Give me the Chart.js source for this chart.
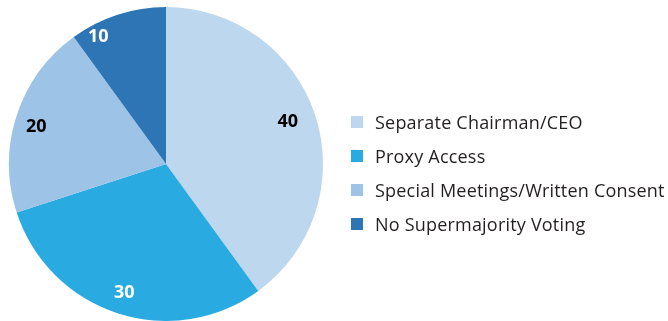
<!DOCTYPE html>
<html>
<head>
<meta charset="utf-8">
<script src="https://cdn.jsdelivr.net/npm/chart.js@4"></script>
<style>
  html, body { margin: 0; padding: 0; background: #fff; }
  #wrap { position: relative; width: 668px; height: 321px; overflow: hidden; }
  #pie { position: absolute; left: 0; top: 0; }
  #legend { position: absolute; left: 351px; top: 111px; font-family: "Open Sans", sans-serif;
            font-size: 18px; letter-spacing: 0.2px; color: #231f20; }
  #legend .row { height: 34px; display: flex; align-items: flex-start; white-space: nowrap; line-height: 22px; }
  #legend .box { width: 12px; height: 12px; margin: 5px 12px 0 0; flex: none; }
</style>
</head>
<body>
<div id="wrap">
  <canvas id="pie" width="668" height="321"></canvas>
  <div id="legend"></div>
</div>
<script>
const categories = ["Separate Chairman/CEO", "Proxy Access", "Special Meetings/Written Consent", "No Supermajority Voting"];
const values = [40, 30, 20, 10];
const sliceColors = ["#bdd7ee", "#29abe2", "#9dc3e6", "#2e75b6"];
const labelColors = ["#000000", "#ffffff", "#000000", "#ffffff"];

// slice value labels, placed along each arc's angle
const sliceLabels = {
  id: "sliceLabels",
  afterDatasetsDraw(chart, args, opts) {
    const ctx = chart.ctx;
    const meta = chart.getDatasetMeta(0);
    ctx.save();
    ctx.font = "bold 18px 'Open Sans', sans-serif";
    ctx.textAlign = "center";
    ctx.textBaseline = "middle";
    meta.data.forEach((arc, i) => {
      const p = arc.getProps(["x", "y", "startAngle", "endAngle", "outerRadius"], true);
      const ang = (p.startAngle + p.endAngle) / 2 + (opts.angleShift[i] || 0) * Math.PI / 180;
      const r = p.outerRadius * opts.radial[i];
      ctx.fillStyle = labelColors[i];
      ctx.fillText(String(values[i]), p.x + Math.cos(ang) * r, p.y + Math.sin(ang) * r);
    });
    ctx.restore();
  }
};

const chart = new Chart(document.getElementById("pie"), {
  type: "pie",
  data: {
    labels: categories,
    datasets: [{ data: values, backgroundColor: sliceColors, borderWidth: 0 }]
  },
  options: {
    responsive: false,
    animation: false,
    layout: { padding: { left: 9, top: 7, right: 345, bottom: 0 } },
    plugins: {
      legend: { display: false },
      tooltip: { enabled: false },
      sliceLabels: { radial: [0.82, 0.86, 0.86, 0.92], angleShift: [-1, 0, -2, -10] }
    }
  },
  plugins: [sliceLabels]
});

// legend built from the same categories and colours
const legend = document.getElementById("legend");
categories.forEach((c, i) => {
  const row = document.createElement("div");
  row.className = "row";
  const box = document.createElement("span");
  box.className = "box";
  box.style.background = sliceColors[i];
  const txt = document.createElement("span");
  txt.textContent = c;
  row.appendChild(box);
  row.appendChild(txt);
  legend.appendChild(row);
});
</script>
</body>
</html>
